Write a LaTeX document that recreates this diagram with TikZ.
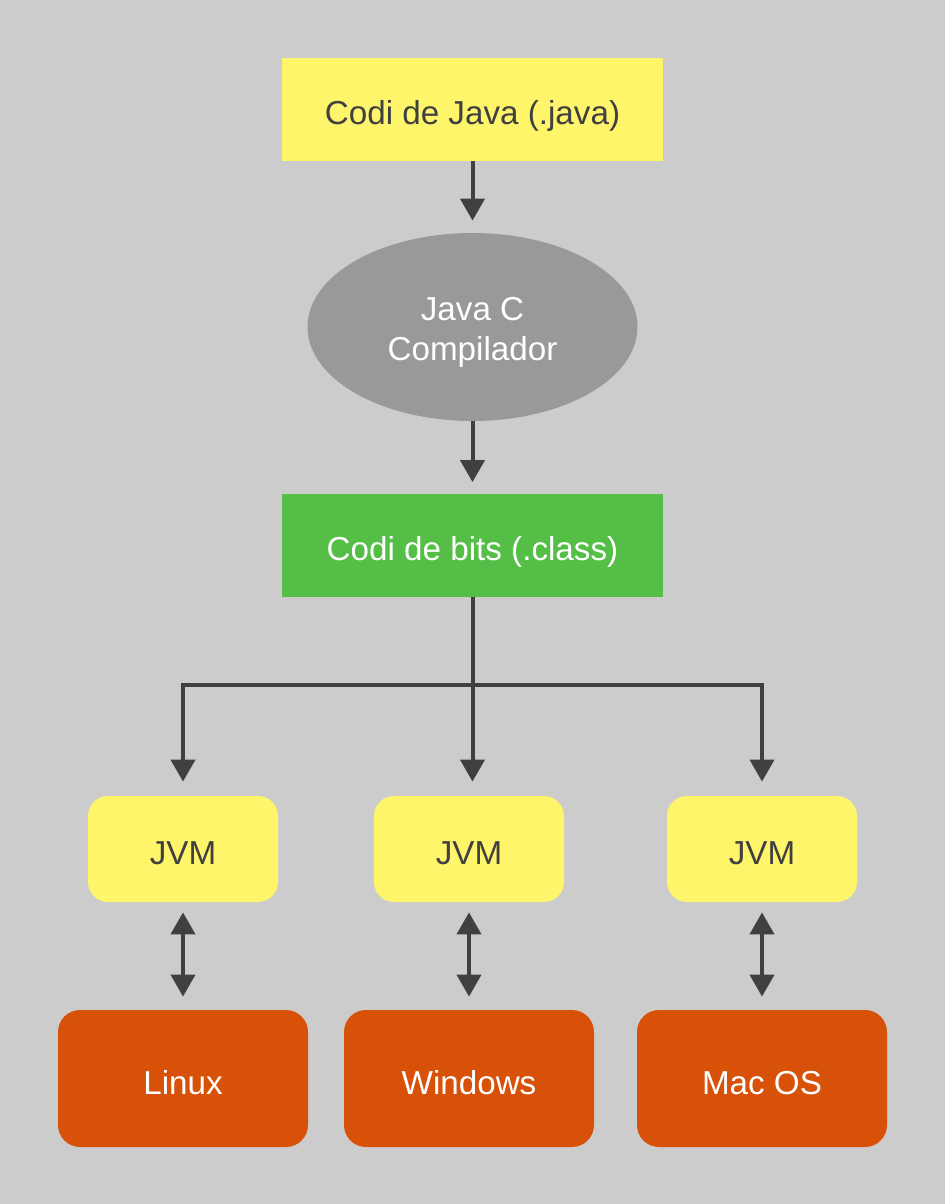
\documentclass[tikz,border=0pt]{standalone}
\usepackage{fontspec}
\setmainfont{Liberation Sans}
\usetikzlibrary{arrows.meta,shapes.geometric}

\definecolor{bggray}{HTML}{CCCCCC}
\definecolor{javayellow}{HTML}{FFF56B}
\definecolor{compgray}{HTML}{999999}
\definecolor{bitsgreen}{HTML}{55BE47}
\definecolor{osorange}{HTML}{D75108}
\definecolor{darkline}{HTML}{404040}

\begin{document}
\begin{tikzpicture}[x=0.5pt,y=-0.5pt,
    every node/.style={font=\fontsize{16.6}{20}\selectfont,text height=19pt,text depth=3.5pt},
    plainbox/.style={rectangle,minimum width=190.5pt,minimum height=51.5pt,inner sep=0pt},
    vmbox/.style={rectangle,rounded corners=10pt,fill=javayellow,text=darkline,
                  minimum width=95pt,minimum height=53pt,inner sep=0pt},
    osbox/.style={rectangle,rounded corners=11pt,fill=osorange,text=white,
                  minimum width=125pt,minimum height=68.5pt,inner sep=0pt},
    link/.style={-{Triangle[length=11pt,width=12pt]},draw=darkline,line width=2pt},
    twoway/.style={{Triangle[length=11pt,width=12pt]}-{Triangle[length=11pt,width=12pt]},
                   draw=darkline,line width=2pt}]
      \fill[bggray] (0,0) rectangle (945,1204);
      \useasboundingbox (0,0) rectangle (945,1204);

      \node[plainbox,fill=javayellow,text=darkline] (source) at (472.5,109.5) {Codi de Java (.java)};
      \node[ellipse,fill=compgray,text=white,minimum width=165pt,minimum height=94pt,
            inner sep=0pt,align=center,text height=37pt,text depth=3.5pt] (javac) at (472.5,327) {Java C\\Compilador};
      \node[plainbox,fill=bitsgreen,text=white] (bits) at (472.5,545) {Codi de bits (.class)};

      \draw[link,shorten >=6pt] (source) -- (javac);
      \draw[link,shorten >=5.5pt] (javac) -- (bits);

      % maquines virtuals
      \node[vmbox] (jvmlinux) at (183,849) {JVM};
      \node[vmbox] (jvmwin) at (469,849) {JVM};
      \node[vmbox] (jvmmac) at (762,849) {JVM};

      % sistemes operatius
      \node[osbox] (linux) at (183,1078.5) {Linux};
      \node[osbox] (windows) at (469,1078.5) {Windows};
      \node[osbox] (macos) at (762,1078.5) {Mac OS};

      \coordinate (split) at (472.5,685);
      \draw[link,shorten >=7pt] (bits.south) -- (split) -| (jvmlinux.north);
      \draw[link,shorten >=7pt] (bits.south) -- (bits.south |- jvmwin.north);
      \draw[link,shorten >=7pt] (split) -| (jvmmac.north);

      \draw[twoway,shorten <=5pt,shorten >=6.5pt] (jvmlinux) -- (linux);
      \draw[twoway,shorten <=5pt,shorten >=6.5pt] (jvmwin) -- (windows);
      \draw[twoway,shorten <=5pt,shorten >=6.5pt] (jvmmac) -- (macos);
    \end{tikzpicture}
\end{document}
